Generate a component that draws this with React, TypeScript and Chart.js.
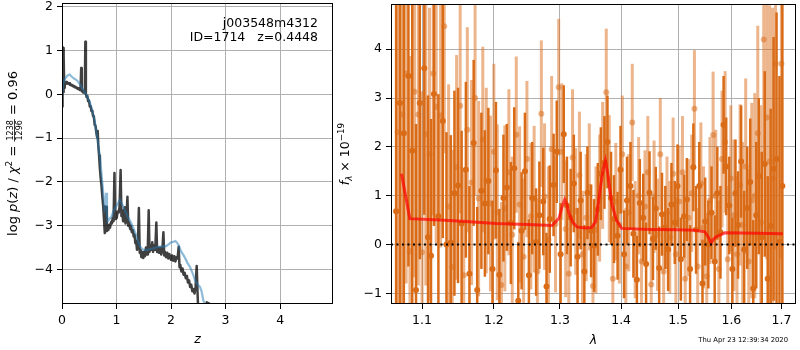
import React, { useEffect, useRef } from 'react';
import { Chart, registerables } from 'chart.js';

Chart.register(...registerables);

const FONT = '"DejaVu Sans"';

// ---------- left panel: log p(z) ----------
const zDark = [0, 0.004, 0.008, 0.012, 0.016, 0.02, 0.024, 0.028, 0.032, 0.036, 0.04, 0.05, 0.06, 0.07, 0.08, 0.09, 0.1, 0.115, 0.13, 0.145, 0.16, 0.175, 0.19, 0.205, 0.22, 0.235, 0.25, 0.265, 0.28, 0.295, 0.31, 0.325, 0.34, 0.352, 0.362, 0.375, 0.39, 0.405, 0.418, 0.428, 0.438, 0.45, 0.465, 0.48, 0.495, 0.51, 0.525, 0.54, 0.555, 0.57, 0.585, 0.6, 0.615, 0.63, 0.645, 0.655, 0.665, 0.68, 0.695, 0.71, 0.725, 0.74, 0.755, 0.77, 0.785, 0.795, 0.81, 0.822, 0.835, 0.85, 0.865, 0.88, 0.9, 0.915, 0.93, 0.945, 0.962, 0.975, 0.99, 1.005, 1.02, 1.04, 1.055, 1.075, 1.09, 1.105, 1.12, 1.135, 1.15, 1.165, 1.18, 1.2, 1.215, 1.23, 1.25, 1.265, 1.28, 1.3, 1.315, 1.33, 1.345, 1.36, 1.375, 1.39, 1.41, 1.425, 1.44, 1.455, 1.47, 1.49, 1.505, 1.52, 1.54, 1.56, 1.575, 1.59, 1.605, 1.62, 1.64, 1.655, 1.67, 1.69, 1.71, 1.73, 1.745, 1.76, 1.78, 1.8, 1.82, 1.84, 1.86, 1.875, 1.89, 1.91, 1.93, 1.95, 1.97, 2.0, 2.02, 2.04, 2.06, 2.08, 2.1, 2.12, 2.14, 2.155, 2.17, 2.19, 2.21, 2.23, 2.25, 2.27, 2.29, 2.31, 2.33, 2.35, 2.37, 2.39, 2.41, 2.43, 2.45, 2.47, 2.485, 2.5, 2.52, 2.6, 2.655, 2.7, 2.72];
const pDark = [-0.28, 1.05, 0.0, 1.08, -0.05, 1.02, 0.05, 1.06, 0.1, 0.9, 0.15, 0.22, 0.26, 0.24, 0.28, 0.25, 0.27, 0.24, 0.25, 0.22, 0.23, 0.2, 0.21, 0.18, 0.19, 0.16, 0.17, 0.14, 0.15, 0.12, 0.14, 0.1, 0.11, 0.6, 0.07, 0.09, 0.04, 0.07, 0.03, 1.2, 0.01, -0.06, -0.04, -0.16, -0.14, -0.28, -0.27, -0.38, -0.37, -0.5, -0.52, -0.7, -0.72, -0.88, -0.98, -0.84, -1.15, -1.4, -1.7, -1.92, -2.1, -2.35, -2.55, -2.85, -3.17, -2.95, -2.57, -3.12, -3.05, -3.1, -2.98, -3.05, -2.92, -2.95, -2.82, -2.9, -1.8, -2.85, -2.75, -2.82, -2.68, -2.7, -2.58, -1.73, -2.78, -2.65, -2.9, -2.75, -2.58, -2.95, -2.85, -2.34, -3.0, -2.92, -3.08, -3.0, -3.15, -3.1, -3.25, -3.2, -3.4, -3.35, -3.55, -3.5, -2.6, -3.62, -3.55, -3.72, -3.6, -3.74, -3.6, -3.7, -3.5, -3.66, -3.45, -2.65, -3.6, -3.45, -3.55, -3.38, -3.6, -3.45, -3.55, -2.93, -3.6, -3.5, -3.62, -3.5, -3.66, -3.55, -3.15, -3.68, -3.6, -3.72, -3.62, -3.75, -3.65, -3.78, -3.68, -3.8, -3.7, -3.82, -3.72, -3.75, -3.48, -3.95, -3.9, -4.05, -3.98, -4.12, -4.08, -4.2, -4.15, -4.3, -4.25, -4.4, -4.35, -4.5, -4.45, -4.55, -4.4, -3.92, -4.5, -5.0, -5.6, -5.6, -4.75, -4.78, -5.5];

const zBlue = [0, 0.02, 0.05, 0.1, 0.14, 0.18, 0.22, 0.26, 0.3, 0.34, 0.38, 0.41, 0.45, 0.5, 0.54, 0.58, 0.61, 0.64, 0.67, 0.7, 0.73, 0.76, 0.78, 0.8, 0.81, 0.825, 0.84, 0.87, 0.905, 0.95, 1.0, 1.06, 1.1, 1.15, 1.2, 1.24, 1.29, 1.33, 1.38, 1.43, 1.49, 1.55, 1.61, 1.67, 1.73, 1.79, 1.85, 1.91, 1.96, 2.0, 2.04, 2.08, 2.11, 2.14, 2.19, 2.25, 2.3, 2.35, 2.4, 2.44, 2.48, 2.53, 2.56, 2.59, 2.62, 2.66, 2.75];
const pBlue = [-0.08, 0.24, 0.35, 0.43, 0.45, 0.4, 0.36, 0.33, 0.28, 0.2, 0.12, 0.06, -0.02, -0.15, -0.3, -0.5, -0.68, -0.95, -1.2, -1.5, -1.9, -2.3, -2.6, -2.5, -2.25, -2.75, -2.9, -2.85, -2.8, -2.65, -2.55, -2.41, -2.5, -2.64, -2.78, -2.87, -3.0, -3.12, -3.3, -3.48, -3.55, -3.56, -3.54, -3.52, -3.5, -3.48, -3.48, -3.47, -3.42, -3.38, -3.37, -3.35, -3.39, -3.45, -3.6, -3.72, -3.85, -3.95, -4.1, -4.25, -4.33, -4.4, -4.5, -4.7, -4.8, -5.2, -5.8];

const leftXTicks = [0, 1, 2, 3, 4];
const leftYTicks = [-4, -3, -2, -1, 0, 1, 2];

// ---------- right panel: spectrum ----------
const lamDark = [1.066, 1.071, 1.076, 1.082, 1.087, 1.092, 1.097, 1.103, 1.108, 1.112, 1.116, 1.122, 1.128, 1.133, 1.139, 1.144, 1.149, 1.154, 1.16, 1.165, 1.171, 1.176, 1.182, 1.187, 1.192, 1.198, 1.203, 1.208, 1.214, 1.219, 1.225, 1.23, 1.236, 1.241, 1.246, 1.252, 1.257, 1.263, 1.268, 1.274, 1.279, 1.284, 1.29, 1.295, 1.301, 1.306, 1.311, 1.317, 1.322, 1.328, 1.333, 1.339, 1.344, 1.35, 1.355, 1.361, 1.366, 1.372, 1.377, 1.383, 1.388, 1.394, 1.399, 1.405, 1.41, 1.416, 1.421, 1.427, 1.432, 1.438, 1.443, 1.449, 1.455, 1.46, 1.466, 1.471, 1.477, 1.482, 1.488, 1.494, 1.499, 1.505, 1.511, 1.516, 1.522, 1.528, 1.533, 1.539, 1.545, 1.55, 1.556, 1.562, 1.568, 1.573, 1.579, 1.585, 1.59, 1.596, 1.602, 1.608, 1.613, 1.619, 1.625, 1.631, 1.637, 1.643, 1.649, 1.654, 1.66, 1.666, 1.672, 1.678, 1.684, 1.69, 1.696, 1.702];
const fluxDark = [0.68, 2.9, 2.28, 3.45, 1.92, -0.93, 2.9, 3.61, 0.15, -0.23, 3.08, 0.58, 2.53, 0.0, 0.04, 1.05, 1.21, 0.43, 1.53, -0.6, 2.08, -0.93, 1.1, 0.84, 1.3, -0.5, 1.52, -0.62, 0.95, 1.17, 0.44, 1.56, -1.15, 0.28, 1.5, -0.63, 0.95, 0.05, 0.6, 0.88, -0.86, 0.52, 1.22, 1.9, -0.2, 2.26, 0.8, 0.55, 1.25, -0.25, 0.9, -0.55, 1.06, 0.28, -0.02, 0.72, 1.45, 1.68, 2.1, 0.95, 0.52, 0.18, 1.53, -0.2, 0.9, 1.2, 0.22, -0.72, 0.85, 0.55, -0.4, 1.06, 0.12, 0.74, -0.48, 0.62, 0.35, -0.1, 0.82, 0.45, 1.2, -0.3, 0.58, 0.92, -0.5, 1.58, 0.3, 1.2, -0.8, 0.47, 0.0, 0.65, -0.35, 1.05, 0.25, 2.45, 1.6, 0.8, -0.5, 1.05, 0.4, 1.7, -0.1, 0.75, 1.28, -0.9, 0.6, 1.4, 0.15, 1.65, -0.7, 0.38, 1.55, 1.75, 0.05, 1.2];
const errDark = [4.8, 4.5, 4.2, 3.9, 3.6, 3.4, 3.2, 3.0, 2.9, 2.8, 2.7, 2.5, 2.4, 2.3, 2.2, 2.1, 2.0, 1.9, 1.8, 1.8, 1.7, 1.7, 1.6, 1.5, 1.5, 1.4, 1.4, 1.35, 1.3, 1.3, 1.25, 1.25, 1.2, 1.2, 1.2, 1.15, 1.15, 1.1, 1.1, 1.1, 1.1, 1.1, 1.05, 1.05, 1.05, 1.0, 1.0, 1.0, 1.0, 1.0, 1.0, 0.95, 0.95, 0.95, 0.95, 0.95, 0.95, 0.95, 0.95, 0.95, 0.9, 0.9, 0.9, 0.9, 0.9, 0.9, 0.9, 0.9, 0.9, 0.9, 0.85, 0.85, 0.85, 0.85, 0.85, 0.85, 0.85, 0.85, 0.85, 0.85, 0.85, 0.85, 0.85, 0.85, 0.9, 0.9, 0.9, 0.9, 0.9, 0.9, 0.9, 0.95, 0.95, 0.95, 0.95, 1.0, 1.0, 1.0, 1.05, 1.1, 1.1, 1.15, 1.2, 1.25, 1.3, 1.4, 1.5, 1.6, 1.75, 1.9, 2.1, 2.4, 2.7, 3.0, 3.4, 3.8];

const lamLight = [1.068, 1.074, 1.079, 1.084, 1.09, 1.095, 1.1, 1.105, 1.11, 1.115, 1.119, 1.125, 1.13, 1.136, 1.141, 1.147, 1.152, 1.157, 1.162, 1.168, 1.173, 1.178, 1.184, 1.189, 1.195, 1.2, 1.205, 1.211, 1.216, 1.222, 1.227, 1.233, 1.238, 1.244, 1.249, 1.255, 1.26, 1.265, 1.271, 1.276, 1.282, 1.287, 1.293, 1.298, 1.303, 1.309, 1.314, 1.32, 1.325, 1.331, 1.336, 1.342, 1.347, 1.353, 1.358, 1.364, 1.369, 1.375, 1.38, 1.386, 1.391, 1.397, 1.402, 1.408, 1.413, 1.419, 1.424, 1.43, 1.435, 1.441, 1.446, 1.452, 1.457, 1.463, 1.468, 1.474, 1.48, 1.485, 1.491, 1.496, 1.502, 1.508, 1.513, 1.519, 1.525, 1.53, 1.536, 1.542, 1.547, 1.553, 1.559, 1.565, 1.57, 1.576, 1.582, 1.588, 1.593, 1.599, 1.605, 1.611, 1.617, 1.622, 1.628, 1.634, 1.64, 1.646, 1.652, 1.658, 1.664, 1.67, 1.676, 1.682, 1.688, 1.7];
const fluxLight = [2.3, 2.66, 3.5, -0.14, 3.13, 2.66, -0.16, 2.26, 1.85, 3.5, 2.82, 2.64, 4.47, 0.78, -0.46, 1.58, 2.84, -0.63, 2.35, 1.27, 3.0, 0.94, 2.15, 1.31, 0.84, 1.9, 0.66, -0.83, 0.74, 1.48, 0.2, 2.25, 0.82, -0.25, 1.75, 0.58, 0.93, -0.55, 2.68, 0.98, 0.1, 1.95, 0.42, 3.22, 1.9, 0.32, -0.6, 1.78, 0.68, 1.42, -0.2, 0.55, 1.18, -0.85, 0.3, 0.95, 1.62, 3.12, 1.35, -0.7, 0.88, 0.4, 1.85, -0.45, 0.65, 2.5, 0.1, 1.0, -0.35, 0.78, 1.48, -0.82, 0.98, 0.2, 1.85, -0.55, 0.65, 0.15, 1.45, -0.2, 0.88, 1.48, -0.7, 0.55, 1.05, 2.78, -0.45, 1.25, 0.35, -0.65, 0.9, 2.24, 1.0, -0.5, 1.75, 2.1, -0.3, 1.35, 0.6, -0.2, 1.22, 0.4, 1.6, -0.35, 0.9, 1.0, 2.28, 0.45, 4.2, 2.6, 1.7, 1.35, 3.7, 3.7];
const errLight = [4.8, 4.6, 4.3, 4.0, 3.8, 3.5, 3.3, 3.1, 3.0, 2.9, 2.8, 2.7, 2.6, 2.5, 2.4, 2.3, 2.2, 2.2, 2.1, 2.1, 2.0, 2.0, 1.9, 1.9, 1.8, 1.8, 1.8, 1.7, 1.7, 1.7, 1.6, 1.6, 1.6, 1.6, 1.6, 1.5, 1.5, 1.5, 1.5, 1.5, 1.5, 1.5, 1.4, 1.4, 1.4, 1.4, 1.4, 1.4, 1.3, 1.3, 1.3, 1.3, 1.3, 1.3, 1.3, 1.3, 1.3, 1.3, 1.3, 1.2, 1.2, 1.2, 1.2, 1.2, 1.2, 1.2, 1.2, 1.2, 1.15, 1.15, 1.15, 1.15, 1.15, 1.15, 1.15, 1.15, 1.15, 1.15, 1.15, 1.15, 1.15, 1.15, 1.2, 1.2, 1.2, 1.2, 1.2, 1.25, 1.25, 1.3, 1.3, 1.3, 1.35, 1.4, 1.4, 1.45, 1.5, 1.5, 1.55, 1.6, 1.65, 1.7, 1.8, 1.9, 2.0, 2.1, 2.2, 2.4, 2.6, 2.9, 3.2, 3.5, 3.8, 4.0];

const lamModel = [1.073, 1.0838, 1.1237, 1.16, 1.2031, 1.25, 1.2877, 1.2986, 1.304, 1.3075, 1.311, 1.3143, 1.32, 1.327, 1.34, 1.3512, 1.3572, 1.362, 1.3654, 1.37, 1.3737, 1.3774, 1.3841, 1.392, 1.4009, 1.45, 1.5, 1.531, 1.5496, 1.556, 1.5613, 1.565, 1.5708, 1.58, 1.5873, 1.65, 1.7029];
const fluxModel = [1.45, 0.53, 0.5, 0.47, 0.43, 0.41, 0.39, 0.54, 0.8, 0.92, 0.82, 0.64, 0.46, 0.36, 0.34, 0.35, 0.46, 0.85, 1.18, 1.55, 1.72, 1.45, 0.84, 0.5, 0.33, 0.31, 0.3, 0.29, 0.26, 0.15, 0.03, 0.1, 0.16, 0.2, 0.24, 0.23, 0.22];

const LAM_MIN = 1.0594;
const LAM_MAX = 1.7303;
const zeroLam = [LAM_MIN, LAM_MAX];
const zeroFlux = [0, 0];

const rightXTicks = [1.1, 1.2, 1.3, 1.4, 1.5, 1.6, 1.7];
const rightYTicks = [-1, 0, 1, 2, 3, 4];

// ---------- helpers ----------
const fmt = (v: number) => (v < 0 ? '\u2212' + Math.abs(v) : String(v));
const f = (size: number, style = '') => `${style} ${size}px ${FONT}`.trim();

const fixScale = (size: number, horizontal: boolean) => (scale: any) => {
  if (horizontal) scale.height = size;
  else scale.width = size;
  scale.paddingTop = 0;
  scale.paddingBottom = 0;
  scale.paddingLeft = 0;
  scale.paddingRight = 0;
};

const setTicks = (vals: number[]) => (scale: any) => {
  scale.ticks = vals.map((v) => ({ value: v }));
};

const gridOpts = { color: '#b0b0b0', lineWidth: 1, tickColor: '#000', tickLength: 5, tickWidth: 1 };
const tickFont = { family: 'DejaVu Sans', size: 12.5 };

const framePlugin = {
  id: 'frame',
  afterDatasetsDraw(chart: any) {
    const { ctx, chartArea } = chart;
    ctx.save();
    ctx.strokeStyle = '#000';
    ctx.lineWidth = 1;
    ctx.strokeRect(
      Math.round(chartArea.left) + 0.5,
      Math.round(chartArea.top) + 0.5,
      Math.round(chartArea.right - chartArea.left) - 1,
      Math.round(chartArea.bottom - chartArea.top) - 1
    );
    ctx.restore();
  },
};

const errorBarPlugin = {
  id: 'errbars',
  beforeDatasetDraw(chart: any, args: any) {
    const ds: any = chart.data.datasets[args.index];
    if (!ds.errs) return;
    const { ctx, chartArea, scales } = chart;
    ctx.save();
    ctx.beginPath();
    ctx.rect(chartArea.left, chartArea.top, chartArea.right - chartArea.left, chartArea.bottom - chartArea.top);
    ctx.clip();
    ctx.strokeStyle = ds.errColor;
    ctx.lineWidth = ds.errWidth;
    ds.data.forEach((pt: any, i: number) => {
      const x = scales.x.getPixelForValue(pt.x);
      ctx.beginPath();
      ctx.moveTo(x, scales.y.getPixelForValue(pt.y - ds.errs[i]));
      ctx.lineTo(x, scales.y.getPixelForValue(pt.y + ds.errs[i]));
      ctx.stroke();
    });
    ctx.restore();
  },
};

type Seg =
  | { t: string; font: string; dy: number }
  | { num: string; den: string; font: string; bar: number; nb: number; db: number };

function drawRotated(ctx: CanvasRenderingContext2D, cx: number, cy: number, segs: Seg[]) {
  ctx.save();
  ctx.translate(cx, cy);
  ctx.rotate(-Math.PI / 2);
  ctx.fillStyle = '#000';
  ctx.textBaseline = 'alphabetic';
  ctx.textAlign = 'left';
  const widths = segs.map((s: any) => {
    ctx.font = s.font;
    if (s.t !== undefined) return ctx.measureText(s.t).width;
    return Math.max(ctx.measureText(s.num).width, ctx.measureText(s.den).width) + 2;
  });
  let x = -widths.reduce((a, b) => a + b, 0) / 2;
  segs.forEach((s: any, i) => {
    ctx.font = s.font;
    if (s.t !== undefined) {
      ctx.fillText(s.t, x, s.dy);
    } else {
      const w = widths[i];
      ctx.textAlign = 'center';
      ctx.fillText(s.num, x + w / 2, s.nb);
      ctx.fillText(s.den, x + w / 2, s.db);
      ctx.textAlign = 'left';
      ctx.fillRect(x, s.bar - 0.4, w, 0.8);
    }
    x += widths[i];
  });
  ctx.restore();
}

const leftTextPlugin = {
  id: 'leftText',
  afterDraw(chart: any) {
    const { ctx, chartArea } = chart;
    ctx.save();
    ctx.fillStyle = '#000';
    ctx.font = f(12.5);
    ctx.textAlign = 'right';
    ctx.textBaseline = 'alphabetic';
    ctx.fillText('j003548m4312', 318, 27);
    ctx.fillText('ID=1714   z=0.4448', 318, 41);
    ctx.textAlign = 'center';
    ctx.font = f(12.5, 'italic');
    ctx.fillText('z', (chartArea.left + chartArea.right) / 2, 343);
    ctx.restore();
    drawRotated(ctx, 17, (chartArea.top + chartArea.bottom) / 2, [
      { t: 'log ', font: f(13), dy: 0 },
      { t: 'p', font: f(13, 'italic'), dy: 0 },
      { t: '(', font: f(13), dy: 0 },
      { t: 'z', font: f(13, 'italic'), dy: 0 },
      { t: ') / ', font: f(13), dy: 0 },
      { t: '\u03c7', font: f(13, 'italic'), dy: 0 },
      { t: '2', font: f(9), dy: -5.5 },
      { t: ' = ', font: f(13), dy: 0 },
      { num: '1238', den: '1296', font: f(8), bar: -2.5, nb: -4, db: 4.8 },
      { t: ' = 0.96', font: f(13), dy: 0 },
    ]);
  },
};

const rightTextPlugin = {
  id: 'rightText',
  afterDraw(chart: any) {
    const { ctx, chartArea } = chart;
    ctx.save();
    ctx.fillStyle = '#000';
    ctx.textAlign = 'center';
    ctx.textBaseline = 'alphabetic';
    ctx.font = f(12.5, 'italic');
    ctx.fillText('\u03bb', (chartArea.left + chartArea.right) / 2, 344);
    ctx.font = f(6.8);
    ctx.textAlign = 'right';
    ctx.fillText('Thu Apr 23 12:39:34 2020', 458, 342);
    ctx.restore();
    drawRotated(ctx, 19, (chartArea.top + chartArea.bottom) / 2, [
      { t: 'f', font: f(12.5, 'italic'), dy: 0 },
      { t: '\u03bb', font: f(8.75, 'italic'), dy: 2.5 },
      { t: ' \u00d7 10', font: f(12.5), dy: 0 },
      { t: '\u221219', font: f(8.75), dy: -5.5 },
    ]);
  },
};

const pts = (xs: number[], ys: number[]) => xs.map((x, i) => ({ x, y: ys[i] }));

export default function App() {
  const leftRef = useRef<HTMLCanvasElement>(null);
  const rightRef = useRef<HTMLCanvasElement>(null);

  useEffect(() => {
    const left = new Chart(leftRef.current as HTMLCanvasElement, {
      type: 'line',
      data: {
        datasets: [
          {
            data: pts(zBlue, pBlue),
            borderColor: 'rgba(31,119,180,0.5)',
            borderWidth: 2.2,
            pointRadius: 0,
            order: 0,
          },
          {
            data: pts(zDark, pDark),
            borderColor: 'rgba(0,0,0,0.75)',
            borderWidth: 2.5,
            borderJoinStyle: 'round',
            pointRadius: 0,
            order: 1,
          },
        ],
      },
      options: {
        responsive: false,
        animation: false,
        events: [],
        layout: { padding: { left: 0, right: 2, top: 3, bottom: 0 } },
        plugins: { legend: { display: false }, tooltip: { enabled: false } },
        scales: {
          x: {
            type: 'linear',
            min: 0,
            max: 4.97,
            afterBuildTicks: setTicks(leftXTicks),
            afterFit: fixScale(46, true),
            grid: gridOpts,
            border: { display: false },
            ticks: { color: '#000', font: tickFont, padding: 4, maxRotation: 0, autoSkip: false, callback: (v: any) => fmt(Number(v)) },
          },
          y: {
            type: 'linear',
            min: -4.79,
            max: 2.085,
            afterBuildTicks: setTicks(leftYTicks),
            afterFit: fixScale(62, false),
            grid: gridOpts,
            border: { display: false },
            ticks: { color: '#000', font: tickFont, padding: 4, autoSkip: false, callback: (v: any) => fmt(Number(v)) },
          },
        },
      } as any,
      plugins: [framePlugin, leftTextPlugin],
    });

    const right = new Chart(rightRef.current as HTMLCanvasElement, {
      type: 'scatter',
      data: {
        datasets: [
          {
            data: pts(zeroLam, zeroFlux),
            showLine: true,
            borderColor: '#000',
            borderWidth: 2,
            borderDash: [2, 3.5],
            pointRadius: 0,
            order: 0,
          },
          {
            data: pts(lamModel, fluxModel),
            showLine: true,
            borderColor: 'rgba(255,0,0,0.7)',
            borderWidth: 3,
            pointRadius: 0,
            order: 1,
          },
          {
            data: pts(lamLight, fluxLight),
            errs: errLight,
            errColor: 'rgba(218,108,24,0.5)',
            errWidth: 3,
            backgroundColor: 'rgba(218,108,24,0.5)',
            borderWidth: 0,
            pointRadius: 3,
            order: 2,
          },
          {
            data: pts(lamDark, fluxDark),
            errs: errDark,
            errColor: 'rgb(218,108,24)',
            errWidth: 2.5,
            backgroundColor: 'rgb(218,108,24)',
            borderWidth: 0,
            pointRadius: 3,
            order: 3,
          },
        ] as any,
      },
      options: {
        responsive: false,
        animation: false,
        events: [],
        layout: { padding: { left: 0, right: 1, top: 3, bottom: 0 } },
        plugins: { legend: { display: false }, tooltip: { enabled: false } },
        scales: {
          x: {
            type: 'logarithmic',
            min: LAM_MIN,
            max: LAM_MAX,
            afterBuildTicks: setTicks(rightXTicks),
            afterFit: fixScale(46, true),
            grid: gridOpts,
            border: { display: false },
            ticks: { color: '#000', font: tickFont, padding: 4, maxRotation: 0, autoSkip: false, callback: (v: any) => Number(v).toFixed(1) },
          },
          y: {
            type: 'linear',
            min: -1.218,
            max: 4.925,
            afterBuildTicks: setTicks(rightYTicks),
            afterFit: fixScale(61, false),
            grid: gridOpts,
            border: { display: false },
            ticks: { color: '#000', font: tickFont, padding: 4, autoSkip: false, callback: (v: any) => fmt(Number(v)) },
          },
        },
      } as any,
      plugins: [errorBarPlugin, framePlugin, rightTextPlugin],
    });

    return () => {
      left.destroy();
      right.destroy();
    };
  }, []);

  return (
    <div style={{ position: 'absolute', left: 0, top: 0, width: 800, height: 350, background: '#fff', overflow: 'hidden' }}>
      <canvas ref={leftRef} width={335} height={350} style={{ position: 'absolute', left: 0, top: 0, width: 335, height: 350 }} />
      <canvas ref={rightRef} width={470} height={350} style={{ position: 'absolute', left: 330, top: 0, width: 470, height: 350 }} />
    </div>
  );
}
